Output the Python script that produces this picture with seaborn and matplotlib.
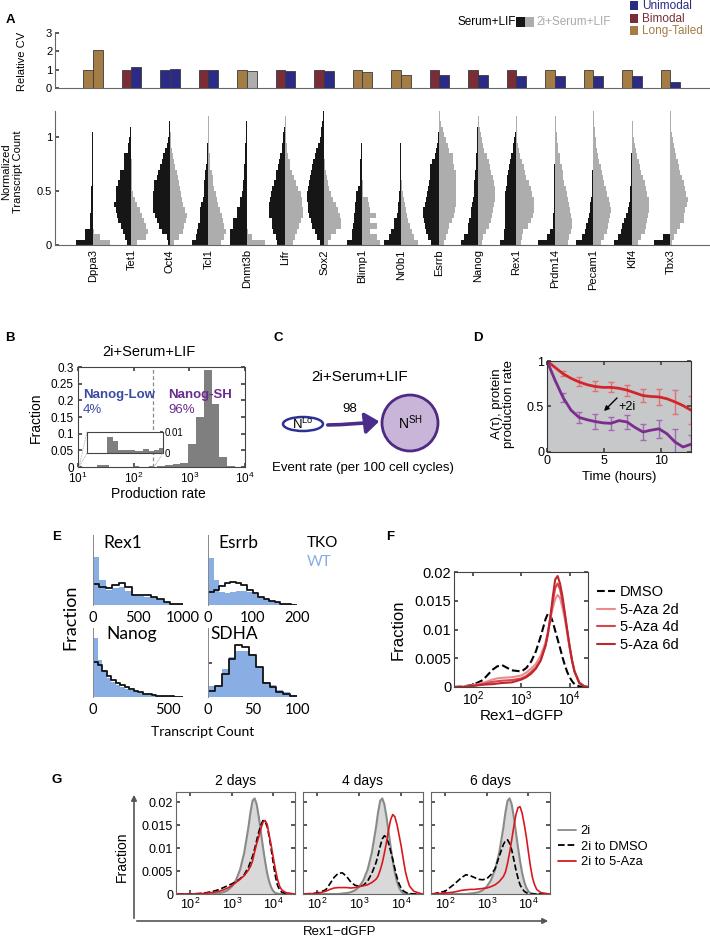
import numpy as np
import pandas as pd
import matplotlib
matplotlib.use("Agg")
import matplotlib.pyplot as plt
import seaborn as sns
from matplotlib.patches import Ellipse, Circle, FancyArrowPatch, Rectangle
from matplotlib.lines import Line2D
from matplotlib.ticker import NullLocator, FixedLocator

# ---------------------------------------------------------------- data
genes = ["Dppa3", "Tet1", "Oct4", "Tcl1", "Dnmt3b", "Lifr", "Sox2", "Blimp1",
         "Nr0b1", "Esrrb", "Nanog", "Rex1", "Prdm14", "Pecam1", "Klf4", "Tbx3"]
cv_serum = [1.0, 1.0, 1.0, 1.0, 1.0, 1.0, 1.0, 1.0, 1.0, 1.0, 1.0, 1.0, 1.0, 1.0, 1.0, 1.0]
cv_2i = [2.07, 1.15, 1.02, 0.99, 0.95, 0.93, 0.92, 0.88, 0.72, 0.70, 0.69, 0.68, 0.67, 0.66, 0.65, 0.30]
cls_serum = ["L", "B", "U", "B", "L", "B", "B", "L", "L", "B", "B", "B", "L", "L", "L", "L"]
cls_2i = ["L", "U", "U", "U", "N", "U", "U", "L", "L", "U", "U", "U", "U", "U", "U", "U"]
class_names = ["Unimodal", "Bimodal", "Long-Tailed"]

# split-violin histograms: relative widths per 0.05 bin of normalized transcript count
violin_bin = 0.05
serum_hist = [
    [50, 25, 25, 9, 9, 8, 7, 6, 6, 5, 5, 4, 4, 4, 3, 3, 3, 2, 2, 2, 2, 1, 1, 1, 1],
    [15, 20, 25, 33, 40, 45, 48, 52, 47, 47, 47, 40, 34, 34, 22, 22, 22, 12, 12, 8, 6, 5, 3, 2, 1],
    [5, 10, 25, 33, 40, 45, 50, 50, 50, 50, 48, 48, 40, 35, 30, 25, 20, 15, 10, 6, 4, 3, 2, 1, 1],
    [50, 37, 35, 32, 27, 27, 25, 22, 18, 15, 15, 13, 12, 10, 7, 6, 5, 4, 4, 3, 3, 2, 2, 1, 1],
    [50, 50, 50, 42, 42, 30, 30, 20, 20, 15, 12, 12, 10, 10, 8, 7, 6, 5, 5, 4, 3, 3, 2, 1, 1],
    [27, 29, 37, 40, 42, 49, 49, 49, 46, 44, 42, 35, 30, 28, 24, 20, 16, 12, 10, 8, 7, 5, 2, 1, 1],
    [13, 22, 28, 35, 40, 45, 48, 49, 51, 51, 48, 45, 43, 40, 36, 32, 28, 23, 18, 13, 10, 8, 5, 3, 2],
    [48, 33, 33, 28, 26, 25, 23, 22, 20, 20, 13, 8, 8, 8, 8, 7, 6, 5, 4, 3, 3, 2, 2, 1, 1],
    [52, 35, 30, 20, 20, 12, 10, 8, 6, 5, 4, 4, 3, 3, 3, 2, 2, 2, 2, 1, 1, 1, 1, 1, 1],
    [25, 35, 42, 45, 47, 50, 50, 45, 40, 38, 35, 32, 30, 30, 28, 22, 15, 12, 8, 6, 4, 3, 2, 1, 1],
    [51, 41, 31, 31, 26, 22, 21, 18, 15, 11, 11, 11, 8, 8, 6, 5, 5, 4, 4, 3, 2, 2, 1, 1, 1],
    [50, 38, 38, 36, 36, 35, 35, 35, 35, 35, 32, 30, 28, 25, 22, 20, 16, 10, 10, 8, 5, 3, 2, 2, 1],
    [52, 24, 14, 7, 6, 5, 4, 3, 3, 3, 2, 2, 2, 2, 2, 1, 1, 1, 1, 1, 1, 1, 1, 1, 1],
    [53, 35, 25, 22, 18, 14, 11, 10, 8, 6, 6, 5, 5, 4, 3, 3, 2, 2, 2, 1, 1, 1, 1, 1, 1],
    [53, 43, 33, 30, 23, 18, 13, 10, 7, 6, 5, 4, 3, 3, 2, 2, 2, 1, 1, 1, 1, 1, 1, 1, 1],
    [51, 23, 2, 1, 1, 1, 1, 1, 1, 1, 1, 1, 1, 1, 1, 1, 1, 1, 1, 1, 1, 1, 1, 1, 1],
]
twoi_hist = [
    [52, 20, 2, 1, 1, 1, 0, 0, 0, 0, 0, 0, 0, 0, 0, 0, 0, 0, 0, 0, 0, 0, 0, 0, 0],
    [18, 43, 51, 43, 38, 33, 25, 18, 12, 5, 3, 2, 1, 1, 1, 1, 0, 0, 0, 0, 0, 0, 0, 0, 0],
    [13, 28, 38, 43, 48, 50, 45, 40, 36, 33, 30, 27, 23, 20, 16, 13, 10, 6, 4, 3, 2, 1, 1, 1, 0],
    [38, 48, 53, 48, 44, 41, 35, 30, 26, 23, 18, 15, 13, 10, 6, 5, 4, 3, 2, 2, 1, 1, 1, 1, 0],
    [53, 15, 3, 1, 1, 0, 0, 0, 0, 0, 0, 0, 0, 0, 0, 0, 0, 0, 0, 0, 0, 0, 0, 0, 0],
    [23, 28, 36, 42, 48, 53, 53, 50, 49, 48, 38, 32, 25, 20, 15, 13, 9, 6, 5, 3, 2, 1, 1, 1, 0],
    [12, 22, 37, 50, 52, 48, 42, 35, 28, 22, 16, 12, 8, 5, 3, 2, 1, 1, 1, 1, 0, 0, 0, 0, 0],
    [54, 44, 22, 44, 22, 40, 22, 20, 18, 2, 1, 1, 0, 0, 0, 0, 0, 0, 0, 0, 0, 0, 0, 0, 0],
    [50, 40, 33, 27, 22, 18, 15, 12, 8, 5, 3, 2, 1, 1, 1, 0, 0, 0, 0, 0, 0, 0, 0, 0, 0],
    [15, 20, 27, 30, 38, 45, 47, 50, 50, 50, 50, 50, 50, 50, 45, 42, 40, 30, 25, 20, 15, 10, 6, 3, 1],
    [12, 16, 25, 32, 38, 42, 46, 49, 51, 51, 51, 47, 44, 40, 35, 32, 26, 19, 15, 11, 9, 6, 4, 2, 1],
    [15, 17, 20, 35, 45, 50, 52, 52, 52, 48, 45, 38, 30, 26, 22, 18, 12, 8, 5, 3, 2, 1, 1, 1, 0],
    [38, 43, 47, 51, 51, 48, 46, 43, 40, 35, 33, 28, 25, 23, 20, 16, 14, 10, 8, 6, 5, 4, 3, 2, 1],
    [22, 32, 40, 45, 48, 50, 52, 50, 47, 40, 37, 33, 28, 25, 22, 18, 15, 12, 9, 7, 5, 4, 3, 2, 1],
    [17, 27, 38, 42, 45, 48, 52, 52, 50, 45, 42, 38, 32, 28, 24, 20, 16, 12, 9, 6, 4, 3, 2, 1, 1],
    [5, 12, 20, 30, 42, 42, 45, 50, 52, 48, 45, 42, 36, 30, 27, 22, 17, 13, 10, 7, 5, 3, 2, 1, 1],
]

# B: production-rate histogram (log10 bin edges, fractions)
b_low_edges = [1.35, 1.46, 1.56, 1.70, 1.85, 2.0, 2.1, 2.2, 2.28, 2.355]
b_low_frac = [0.0075, 0.0058, 0.0015, 0.0015, 0.0010, 0.002, 0.001, 0.0015, 0.0025]
b_high_edges = [2.42, 2.56, 2.70, 2.84, 2.98, 3.12, 3.26, 3.40, 3.54, 3.68, 3.82]
b_high_frac = [0.003, 0.005, 0.008, 0.012, 0.07, 0.15, 0.29, 0.19, 0.03, 0.004]
b_threshold_log = 2.355

# D: A(tau) curves
d_t = [0, 0.7, 1.4, 2.1, 2.8, 3.5, 4.2, 4.9, 5.6, 6.3, 7.0, 7.7, 8.4, 9.1, 9.8, 10.5, 11.2, 11.9, 12.6]
d_serum = [1.0, 0.93, 0.86, 0.81, 0.77, 0.74, 0.72, 0.71, 0.71, 0.70, 0.68, 0.65, 0.62, 0.61, 0.605, 0.585, 0.55, 0.51, 0.46]
d_2i = [1.0, 0.79, 0.60, 0.46, 0.38, 0.355, 0.335, 0.32, 0.315, 0.345, 0.33, 0.27, 0.22, 0.24, 0.255, 0.20, 0.11, 0.055, 0.085]
d_err_t = [1.4, 2.8, 4.2, 5.6, 7.0, 8.4, 9.8, 11.2, 12.6]
d_serum_pt = [0.86, 0.77, 0.72, 0.71, 0.68, 0.62, 0.605, 0.55, 0.46]
d_serum_err = [0.03, 0.05, 0.055, 0.055, 0.06, 0.075, 0.09, 0.13, 0.15]
d_2i_pt = [0.60, 0.38, 0.335, 0.315, 0.33, 0.22, 0.255, 0.11, 0.085]
d_2i_err = [0.05, 0.065, 0.085, 0.07, 0.08, 0.09, 0.10, 0.14, 0.10]

# E: transcript count histograms (relative heights)
e_titles = ["Rex1", "Esrrb", "Nanog", "SDHA"]
e_binwidth = [1000 / 14, 12.5, 30, 100 / 13]
e_wt = [
    [0.68, 0.36, 0.22, 0.24, 0.26, 0.20, 0.14, 0.13, 0.12, 0.11, 0.07, 0.04, 0.02, 0.01],
    [0.67, 0.36, 0.18, 0.17, 0.18, 0.20, 0.20, 0.19, 0.15, 0.12, 0.09, 0.06, 0.04, 0.02, 0.01, 0.005],
    [0.85, 0.54, 0.39, 0.27, 0.22, 0.18, 0.15, 0.12, 0.10, 0.08, 0.06, 0.05, 0.04, 0.03, 0.02, 0.015, 0.01, 0.01, 0.005, 0.005],
    [0.16, 0.16, 0.41, 0.58, 0.66, 0.67, 0.63, 0.44, 0.22, 0.17, 0.10, 0.07, 0.03],
]
e_tko = [
    [0.30, 0.26, 0.24, 0.29, 0.32, 0.26, 0.15, 0.15, 0.14, 0.12, 0.08, 0.05, 0.02, 0.01],
    [0.19, 0.22, 0.27, 0.31, 0.33, 0.32, 0.28, 0.22, 0.17, 0.12, 0.08, 0.06, 0.04, 0.02, 0.01, 0.005],
    [0.51, 0.46, 0.38, 0.31, 0.25, 0.20, 0.17, 0.14, 0.11, 0.09, 0.07, 0.05, 0.04, 0.03, 0.02, 0.015, 0.01, 0.01, 0.005, 0.005],
    [0.09, 0.16, 0.34, 0.55, 0.76, 0.73, 0.61, 0.44, 0.20, 0.15, 0.07, 0.05, 0.01],
]
e_xmax = [1000, 200, 600, 100]
e_ticks = [[0, 500, 1000], [0, 100, 200], [0, 500], [0, 50, 100]]

# F: Rex1-dGFP distributions (log10 intensity, fraction)
f_logx = [1.6, 1.8, 2.0, 2.2, 2.4, 2.5, 2.6, 2.8, 3.0, 3.1, 3.2, 3.3, 3.4, 3.5, 3.55, 3.6, 3.65,
          3.7, 3.75, 3.8, 3.85, 3.9, 3.95, 4.0, 4.05, 4.1, 4.2, 4.3, 4.38]
f_dmso = [0, .0001, .0004, .0012, .003, .0036, .0038, .0029, .0027, .0033, .0044, .0062, .0088, .0118, .0128,
          .0125, .0113, .0098, .0083, .0068, .0052, .0038, .0026, .0017, .001, .0005, .0001, 0, 0]
f_aza2 = [0, .0001, .0003, .0007, .0013, .0015, .0016, .0017, .002, .0025, .0032, .004, .0055, .0078, .0097,
          .0118, .0138, .0153, .016, .0155, .0138, .0118, .0093, .0068, .0046, .0028, .0008, .0002, 0]
f_aza4 = [0, 0, .0002, .0005, .0009, .001, .0011, .0012, .0015, .0019, .0026, .0034, .0047, .0072, .0093,
          .012, .0148, .0172, .018, .017, .015, .0125, .0097, .0069, .0045, .0027, .0007, .0001, 0]
f_aza6 = [0, 0, .0002, .0004, .0005, .0006, .0007, .0008, .0013, .0017, .0023, .0032, .0046, .0072, .0093,
          .0122, .0157, .0187, .0193, .018, .0158, .0129, .0099, .0071, .0046, .0027, .0007, .0001, 0]
f_labels = ["DMSO", "5-Aza 2d", "5-Aza 4d", "5-Aza 6d"]

# G: 2i -> DMSO / 5-Aza time course
g_titles = ["2 days", "4 days", "6 days"]
g_logx = [1.7, 2.0, 2.2, 2.3, 2.4, 2.5, 2.6, 2.7, 2.8, 2.9, 3.0, 3.1, 3.2, 3.3, 3.4, 3.45, 3.5, 3.55,
          3.6, 3.65, 3.7, 3.75, 3.8, 3.85, 3.9, 3.95, 4.0, 4.05, 4.1, 4.15, 4.2, 4.3, 4.5]
g_2i = [0, 0, 0, 0, 0, 0, .0001, .0002, .0004, .0008, .0016, .003, .0053, .009, .0145, .0178, .0203, .0208,
        .0195, .0168, .0135, .0102, .0072, .0046, .0027, .0014, .0006, .0002, .0001, 0, 0, 0, 0]
g_dmso = [
    [0, 0, .0001, .0002, .0003, .0005, .0007, .001, .0014, .0018, .0022, .0027, .0033, .0042, .0058, .007, .0082,
     .0098, .0117, .0135, .015, .016, .0158, .0147, .0125, .0096, .0066, .0038, .0019, .0009, .0004, .0001, 0],
    [0, .0002, .0009, .0022, .0036, .0045, .0046, .0038, .0026, .0019, .0017, .0019, .0028, .0045, .0068, .0085,
     .0104, .012, .0127, .0122, .011, .0093, .0075, .0055, .0036, .0022, .0013, .0007, .0004, .0002, .0001, 0, 0],
    [0, .0006, .002, .0028, .0036, .0042, .004, .0036, .0032, .0031, .0033, .0042, .0055, .0082, .0108, .0116,
     .0118, .011, .0096, .0075, .0053, .0035, .002, .0012, .0006, .0003, .0001, 0, 0, 0, 0, 0, 0],
]
g_aza = [
    [0, 0, 0, .0001, .0002, .0003, .0004, .0006, .0009, .0013, .0018, .0025, .0032, .004, .0052, .006, .0072,
     .0092, .011, .0125, .0142, .0156, .016, .0152, .0128, .0105, .0078, .0053, .0032, .0017, .0009, .0003, 0],
    [0, .0001, .0006, .001, .0013, .0014, .0014, .0014, .0013, .0014, .0016, .0018, .002, .0025, .0032, .0039,
     .0052, .0068, .0089, .0113, .014, .0162, .0173, .0168, .0151, .0128, .0104, .0076, .0049, .0031, .0017, .0006, 0],
    [0, .0002, .0004, .0006, .0008, .0009, .001, .001, .0011, .0012, .0013, .0016, .002, .0027, .0038, .0048,
     .0067, .009, .0118, .0147, .0172, .0188, .019, .0176, .0152, .0125, .0092, .006, .0035, .002, .001, .0003, 0],
]
g_labels = ["2i", "2i to DMSO", "2i to 5-Aza"]

# ---------------------------------------------------------------- style
sns.set_theme(style="ticks", rc={"axes.edgecolor": "#444444", "text.color": "black",
                                 "axes.labelcolor": "black", "xtick.color": "#444444",
                                 "ytick.color": "#444444"})
plt.rcParams["font.family"] = ["Liberation Sans", "DejaVu Sans"]
plt.rcParams["mathtext.fontset"] = "custom"
plt.rcParams["mathtext.rm"] = "Liberation Sans"
plt.rcParams["mathtext.it"] = "Liberation Sans:italic"
plt.rcParams["mathtext.bf"] = "Liberation Sans:bold"
plt.rcParams["axes.linewidth"] = 0.8

W, H = 710, 938
fig = plt.figure(figsize=(7.1, 9.38), dpi=100)
fig.patch.set_facecolor("white")


def pax(x0, y0, x1, y1):
    return fig.add_axes([x0 / W, 1 - y1 / H, (x1 - x0) / W, (y1 - y0) / H])


def ftext(x, y, s, **kw):
    kw.setdefault("ha", "center")
    kw.setdefault("va", "center")
    return fig.text(x / W, 1 - y / H, s, **kw)


def frect(x0, y0, x1, y1, color):
    fig.add_artist(Rectangle((x0 / W, 1 - y1 / H), (x1 - x0) / W, (y1 - y0) / H,
                             transform=fig.transFigure, facecolor=color, edgecolor="none"))


def panel_label(x, y, s):
    ftext(x, y, s, fontsize=9.5, fontweight="bold")


class_colors = {"U": "#2B2A86", "B": "#7A2C37", "L": "#A47C46", "N": "#ADADAD"}
name_colors = {"Unimodal": "#2B2A86", "Bimodal": "#7A2C37", "Long-Tailed": "#A47C46"}

# ---------------------------------------------------------------- A
panel_label(10, 20, "A")
xlimA = ((55 - 93) / 38.5, (709 - 93) / 38.5)
pos = np.arange(len(genes))
axCV = pax(55, 33, 709, 88)
axCV.bar(pos - 0.125, cv_serum, width=0.25, color=[class_colors[c] for c in cls_serum],
         edgecolor="#3a3a3a", linewidth=0.6)
axCV.bar(pos + 0.125, cv_2i, width=0.25, color=[class_colors[c] for c in cls_2i],
         edgecolor="#3a3a3a", linewidth=0.6)
axCV.set_xlim(xlimA)
axCV.set_ylim(0, 3)
axCV.set_yticks([0, 1, 2, 3])
axCV.set_xticks([])
for s in ["top", "right"]:
    axCV.spines[s].set_visible(False)
axCV.spines["left"].set_color("#666666")
axCV.spines["bottom"].set_color("#666666")
axCV.tick_params(axis="y", direction="in", length=3, labelsize=8, pad=2, labelcolor="black")
ftext(22, 61, "Relative CV", rotation=90, fontsize=8)

axV = pax(55, 111, 709, 245)
scale = 0.43 / 50
for i in range(len(genes)):
    lo = np.arange(len(serum_hist[i])) * violin_bin
    axV.barh(lo, -np.array(serum_hist[i]) * scale, left=i, height=violin_bin, align="edge",
             color="#161616", linewidth=0)
    axV.barh(lo, np.array(twoi_hist[i]) * scale, left=i, height=violin_bin, align="edge",
             color="#ADADAD", linewidth=0)
axV.set_xlim(xlimA)
axV.set_ylim(0, 1.244)
axV.set_yticks([0, 0.5, 1])
axV.set_yticklabels(["0", "0.5", "1"])
axV.set_xticks(pos)
axV.set_xticklabels(genes, rotation=90, fontsize=8)
for s in ["top", "right"]:
    axV.spines[s].set_visible(False)
axV.spines["left"].set_color("#666666")
axV.spines["bottom"].set_color("#666666")
axV.tick_params(axis="y", direction="in", length=3, labelsize=8, pad=2, labelcolor="black")
axV.tick_params(axis="x", length=0, pad=3, labelcolor="black")
ftext(12, 172, "Normalized\nTranscript Count", rotation=90, fontsize=8, linespacing=1.15)

# legend A
ftext(516, 22, "Serum+LIF", ha="right", fontsize=8.5)
frect(516, 17, 525, 27, "#161616")
frect(525, 17, 534, 27, "#ADADAD")
ftext(536, 22, "2i+Serum+LIF", ha="left", fontsize=8.5, color="#AAAAAA")
for k, (nm, yc) in enumerate(zip(class_names, [6, 18.5, 31])):
    frect(630, yc - 4.5, 638, yc + 4.5, name_colors[nm])
    ftext(642, yc, nm, ha="left", fontsize=8.5, color=name_colors[nm])

# ---------------------------------------------------------------- B
panel_label(10, 338, "B")
axB = pax(78, 367, 245, 467)
axB.set_xscale("log")
lo_e = np.power(10.0, b_low_edges)
hi_e = np.power(10.0, b_high_edges)
axB.bar(lo_e[:-1], b_low_frac, width=np.diff(lo_e), align="edge", color="#7F7F7F", linewidth=0)
axB.bar(hi_e[:-1], b_high_frac, width=np.diff(hi_e), align="edge", color="#7F7F7F", linewidth=0)
axB.axvline(10 ** b_threshold_log, color="#888888", ls=(0, (3, 2)), lw=0.9)
axB.set_xlim(10, 1e4)
axB.set_ylim(0, 0.3)
axB.set_yticks([0, 0.05, 0.1, 0.15, 0.2, 0.25, 0.3])
axB.set_yticklabels(["0", "0.05", "0.1", "0.15", "0.2", "0.25", "0.3"])
axB.set_xticks([10, 100, 1000, 10000])
axB.xaxis.set_minor_locator(NullLocator())
axB.tick_params(direction="in", length=3, labelsize=8.5, top=True, right=True, labelcolor="black", pad=2)
axB.tick_params(axis="x", pad=3)
axB.tick_params(axis="y", pad=3)
ftext(149, 352, "2i+Serum+LIF", fontsize=10.5)
ftext(36, 418, "Fraction", rotation=90, fontsize=10)
ftext(158, 494, "Production rate", fontsize=10)
ftext(83, 395, "Nanog-Low", ha="left", fontsize=9.5, fontweight="bold", color="#3B4BA3")
ftext(83, 410, "4%", ha="left", fontsize=9.5, color="#3B4BA3")
ftext(168, 395, "Nanog-SH", ha="left", fontsize=9.5, fontweight="bold", color="#6C2C8E")
ftext(168, 410, "96%", ha="left", fontsize=9.5, color="#6C2C8E")
# inset
axBi = pax(87, 432, 163, 453)
axBi.set_xscale("log")
axBi.bar(lo_e[:-1], b_low_frac, width=np.diff(lo_e), align="edge", color="#7F7F7F", linewidth=0)
axBi.set_xlim(10, 10 ** b_threshold_log)
axBi.set_ylim(0, 0.01)
axBi.set_xticks([])
axBi.xaxis.set_minor_locator(NullLocator())
axBi.set_yticks([0, 0.01])
axBi.set_yticklabels(["0", "0.01"])
axBi.yaxis.tick_right()
axBi.tick_params(axis="y", direction="in", length=2, labelsize=7, pad=1, labelcolor="black")
for (xa, ya, xb, yb) in [(87, 432, 79, 467), (87, 453, 79, 467), (163, 453, 154, 467)]:
    fig.add_artist(Line2D([xa / W, xb / W], [1 - ya / H, 1 - yb / H], transform=fig.transFigure,
                          color="#999999", lw=0.6, ls=(0, (1, 1))))

# ---------------------------------------------------------------- C
panel_label(278, 338, "C")
axC = pax(240, 330, 470, 520)
axC.set_xlim(240, 470)
axC.set_ylim(520, 330)
axC.axis("off")
axC.add_patch(Ellipse((303, 424), 40, 14, facecolor="white", edgecolor="#2E3192", lw=1.8))
axC.add_patch(Circle((410, 423), 28, facecolor="#C9B5D8", edgecolor="#4E2A84", lw=2.0))
axC.add_patch(FancyArrowPatch((325, 425), (382, 421), connectionstyle="arc3,rad=0.03",
                              arrowstyle="-|>,head_length=0.6,head_width=0.45", mutation_scale=14,
                              color="#4B2C8A", lw=2.6))
axC.text(303, 424.5, r"N$^{\mathrm{Lo}}$", ha="center", va="center", fontsize=9.5)
axC.text(410, 423, r"N$^{\mathrm{SH}}$", ha="center", va="center", fontsize=10)
axC.text(350, 409, "98", ha="center", va="center", fontsize=9.5)
axC.text(360, 377, "2i+Serum+LIF", ha="center", va="center", fontsize=11)
axC.text(363, 468, "Event rate (per 100 cell cycles)", ha="center", va="center", fontsize=9.5)

# ---------------------------------------------------------------- D
panel_label(478, 338, "D")
axD = pax(547, 361, 691, 452)
axD.set_facecolor("#C7C8CA")
axD.errorbar(d_err_t, d_serum_pt, yerr=d_serum_err, fmt="none", ecolor="#E07277", elinewidth=1,
             capsize=2.5, capthick=1)
axD.errorbar(d_err_t, d_2i_pt, yerr=d_2i_err, fmt="none", ecolor="#A06AB4", elinewidth=1,
             capsize=2.5, capthick=1)
sns.lineplot(x=d_t, y=d_serum, color="#D3262C", lw=2, ax=axD)
sns.lineplot(x=d_t, y=d_2i, color="#7B2D8E", lw=2, ax=axD)
axD.set_xlim(0, 12.6)
axD.set_ylim(0, 1)
axD.set_xticks([0, 5, 10])
axD.set_yticks([0, 0.5, 1])
axD.set_yticklabels(["0", "0.5", "1"])
axD.tick_params(direction="in", length=3, labelsize=9, top=True, right=True, labelcolor="black", pad=2)
for s in axD.spines.values():
    s.set_color("#333333")
axD.annotate("", xy=(602 / W, 1 - 413 / H), xytext=(619 / W, 1 - 396 / H), xycoords="figure fraction",
             arrowprops=dict(arrowstyle="-|>", color="black", lw=1, mutation_scale=7))
ftext(618, 407, "+2i", ha="left", fontsize=9)
ftext(503, 404, "A(τ), protein\nproduction rate", rotation=90, fontsize=9.5, linespacing=1.1)
ftext(619, 477, "Time (hours)", fontsize=9.5)

# ---------------------------------------------------------------- E
panel_label(57, 537, "E")
e_boxes = [(93, 535, 183, 605), (208, 535, 297, 605), (93, 628, 183, 697), (208, 628, 297, 697)]
e_title_pos = [(0.33, 0.88), (0.34, 0.88), (0.43, 0.92), (0.30, 0.92)]
WT_COLOR = "#88AEE4"
for k, box in enumerate(e_boxes):
    ax = pax(*box)
    edges = (np.arange(len(e_wt[k]) + 1) * e_binwidth[k]).tolist()
    centers = [(a + b) / 2 for a, b in zip(edges[:-1], edges[1:])]
    dfe = pd.DataFrame({"count": centers, "wt": e_wt[k], "tko": e_tko[k]})
    sns.histplot(data=dfe, x="count", weights="wt", bins=edges, element="step", fill=True,
                 color=WT_COLOR, alpha=1, linewidth=0, ax=ax)
    sns.histplot(data=dfe, x="count", weights="tko", bins=edges, element="step", fill=False,
                 color="#111111", linewidth=1.3, ax=ax)
    ax.set_xlim(0, e_xmax[k])
    ax.set_ylim(0, 1)
    ax.set_xlabel("")
    ax.set_ylabel("")
    ax.set_xticks(e_ticks[k])
    ax.set_xticklabels([str(t) for t in e_ticks[k]], fontfamily="Lato", fontsize=10.5)
    if k == 3:
        ax.set_yticks([0.5])
        ax.tick_params(axis="y", direction="in", length=3, labelleft=False)
    else:
        ax.set_yticks([])
    ax.tick_params(axis="x", length=0, pad=4, labelcolor="black")
    for s in ["top", "right", "bottom"]:
        ax.spines[s].set_visible(False)
    ax.spines["left"].set_color("#888888")
    ax.spines["left"].set_linewidth(0.7)
    ax.text(e_title_pos[k][0], e_title_pos[k][1], e_titles[k], transform=ax.transAxes,
            ha="center", va="center", fontsize=12.5, fontfamily="Lato")
ftext(70, 617, "Fraction", rotation=90, fontsize=13, fontfamily="Lato")
ftext(203, 732, "Transcript Count", fontsize=10, fontfamily="Lato")
ftext(307, 543, "TKO", ha="left", fontsize=11, fontfamily="Lato")
ftext(307, 562, "WT", ha="left", fontsize=11, fontfamily="Lato", color=WT_COLOR)

# ---------------------------------------------------------------- F
panel_label(390, 537, "F")
axF = pax(454, 572, 588, 687)
fx = np.power(10.0, f_logx)
f_series = [f_dmso, f_aza2, f_aza4, f_aza6]
f_colors = ["black", "#E88C90", "#D9454C", "#C0262D"]
f_styles = ["--", "-", "-", "-"]
for ys, c, ls in zip(f_series, f_colors, f_styles):
    sns.lineplot(x=fx, y=ys, color=c, lw=1.5, ax=axF, linestyle=ls)
axF.set_xscale("log")
axF.set_xlim(40, 24000)
axF.set_ylim(0, 0.02)
axF.set_xticks([100, 1000, 10000])
axF.xaxis.set_minor_locator(NullLocator())
axF.set_yticks([0, 0.005, 0.01, 0.015, 0.02])
axF.set_yticklabels(["0", "0.005", "0.01", "0.015", "0.02"])
axF.tick_params(direction="in", length=3, labelsize=10.5, top=True, right=True, labelcolor="black", pad=2)
axF.tick_params(axis="x", labelsize=10, pad=2)
ftext(398, 630, "Fraction", rotation=90, fontsize=12)
ftext(522, 716, "Rex1−dGFP", fontsize=11)
f_handles = [Line2D([], [], color=c, ls=ls, lw=1.5) for c, ls in zip(f_colors, f_styles)]
fig.legend(f_handles, f_labels, loc="upper left", bbox_to_anchor=(597 / W, 1 - 585 / H),
           frameon=False, fontsize=10.5, handlelength=1.2, handletextpad=0.35,
           labelspacing=0.25, borderpad=0, borderaxespad=0)

# ---------------------------------------------------------------- G
panel_label(57, 780, "G")
g_boxes = [(176, 295), (303, 423), (431, 550)]
gx = np.power(10.0, g_logx)
for j, (x0, x1) in enumerate(g_boxes):
    ax = pax(x0, 792, x1, 894)
    ax.fill_between(gx, g_2i, color="#D9D9D9", lw=0)
    sns.lineplot(x=gx, y=g_2i, color="#8A8A8A", lw=1.5, ax=ax)
    sns.lineplot(x=gx, y=g_dmso[j], color="black", lw=1.2, ax=ax, linestyle="--")
    sns.lineplot(x=gx, y=g_aza[j], color="#D7191F", lw=1.2, ax=ax)
    ax.set_xscale("log")
    ax.set_xlim(10 ** 1.66, 10 ** 4.52)
    ax.set_ylim(0, 0.0222)
    ax.set_xticks([100, 1000, 10000])
    ax.xaxis.set_minor_locator(NullLocator())
    ax.set_yticks([0, 0.005, 0.01, 0.015, 0.02])
    if j == 0:
        ax.set_yticklabels(["0", "0.005", "0.01", "0.015", "0.02"])
    else:
        ax.set_yticklabels([])
    ax.tick_params(direction="in", length=3, labelsize=9, top=True, right=True, labelcolor="black", pad=2)
    for s in ax.spines.values():
        s.set_color("#666666")
    ftext((x0 + x1) / 2, 781, g_titles[j], fontsize=10)
fig.add_artist(FancyArrowPatch((134 / W, 1 - 921 / H), (134 / W, 1 - 792 / H), transform=fig.transFigure,
                               arrowstyle="-|>", mutation_scale=8, color="#555555", lw=1.2))
fig.add_artist(FancyArrowPatch((134 / W, 1 - 921 / H), (551 / W, 1 - 921 / H), transform=fig.transFigure,
                               arrowstyle="-|>", mutation_scale=8, color="#555555", lw=1.2))
ftext(122, 857, "Fraction", rotation=90, fontsize=10)
ftext(340, 932, "Rex1−dGFP", fontsize=9.5)
g_colors = ["#8A8A8A", "black", "#D7191F"]
g_styles = ["-", "--", "-"]
g_handles = [Line2D([], [], color=c, ls=ls, lw=1.3) for c, ls in zip(g_colors, g_styles)]
fig.legend(g_handles, g_labels, loc="upper left", bbox_to_anchor=(558 / W, 1 - 825 / H),
           frameon=False, fontsize=9.3, handlelength=1.4, handletextpad=0.35,
           labelspacing=0.28, borderpad=0, borderaxespad=0)

fig.savefig("out.png", dpi=100, facecolor="white")
